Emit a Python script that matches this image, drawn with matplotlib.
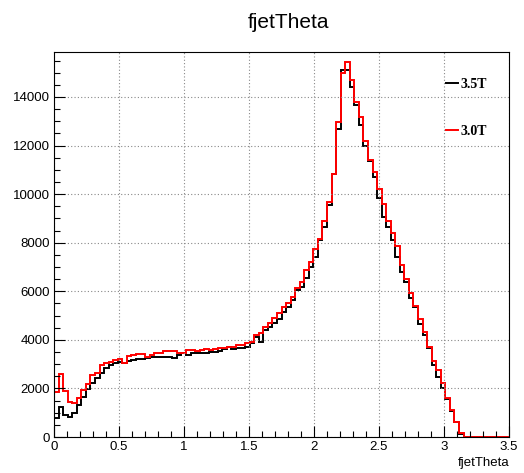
import numpy as np
import matplotlib
matplotlib.use("Agg")
import matplotlib.pyplot as plt
from matplotlib.ticker import MultipleLocator

# ===== data: 100 bins from 0 to 3.5 =====
n_bins = 100
x_min, x_max = 0.0, 3.5

counts_35T = [
    770, 1220, 900, 840, 1000, 1320, 1630, 1960, 2210, 2420,
    2650, 2830, 2960, 3060, 3100, 3060, 3130, 3170, 3200, 3220,
    3240, 3280, 3300, 3300, 3310, 3300, 3240, 3370, 3440, 3370,
    3440, 3440, 3440, 3440, 3510, 3510, 3560, 3610, 3720, 3610,
    3650, 3650, 3720, 3860, 4130, 3920, 4400, 4540, 4680, 4850,
    5150, 5360, 5640, 6050, 6160, 6530, 7010, 7420, 8110, 8650,
    9550, 10810, 12700, 15100, 15100, 14420, 13660, 12840, 11990, 11350,
    10710, 9850, 9070, 8660, 8110, 7420, 6800, 6390, 5730, 5360,
    4650, 4200, 3650, 2960, 2480, 2000, 1560, 1080, 600, 140,
    15, 0, 0, 0, 0, 0, 0, 0, 0, 0,
]
counts_30T = [
    1850, 2600, 1880, 1450, 1420, 1620, 1930, 2170, 2550, 2650,
    2960, 3030, 3100, 3170, 3200, 3060, 3330, 3370, 3410, 3400,
    3300, 3370, 3440, 3470, 3540, 3540, 3520, 3440, 3460, 3580,
    3580, 3560, 3580, 3610, 3580, 3620, 3650, 3650, 3720, 3720,
    3790, 3790, 3850, 3920, 4200, 4270, 4540, 4680, 4880, 5100,
    5360, 5530, 5770, 6140, 6390, 6870, 7210, 7720, 8140, 8890,
    9690, 10810, 12980, 15000, 15420, 14690, 13800, 13180, 12180, 11400,
    10920, 10190, 9600, 8890, 8410, 7860, 7070, 6490, 5940, 5390,
    4840, 4330, 3720, 3140, 2760, 2230, 1590, 1110, 630, 150,
    20, 0, 0, 0, 0, 0, 0, 0, 0, 0,
]
labels = ["3.5T", "3.0T"]

edges = np.linspace(x_min, x_max, n_bins + 1)

# ===== figure =====
fig = plt.figure(figsize=(5.24, 4.73), dpi=100)
ax = fig.add_axes([54 / 524, 36 / 473, 455 / 524, 385 / 473])

ax.stairs(counts_35T, edges, baseline=None, color="black", lw=1.4, label=labels[0])
ax.stairs(counts_30T, edges, baseline=None, color="red", lw=1.4, label=labels[1])

ax.set_xlim(x_min, x_max)
ax.set_ylim(0, 15850)

ax.xaxis.set_major_locator(MultipleLocator(0.5))
ax.xaxis.set_minor_locator(MultipleLocator(0.1))
ax.yaxis.set_major_locator(MultipleLocator(2000))
ax.yaxis.set_minor_locator(MultipleLocator(500))
ax.set_xticks(np.arange(0, 3.51, 0.5))
ax.set_xticklabels(["0", "0.5", "1", "1.5", "2", "2.5", "3", "3.5"])

tick_font = "Liberation Sans"
ax.tick_params(which="major", direction="in", length=8, width=0.8, labelsize=9.5, pad=3)
ax.tick_params(which="minor", direction="in", length=4, width=0.8)
for lab in ax.get_xticklabels() + ax.get_yticklabels():
    lab.set_fontfamily(tick_font)

ax.grid(True, which="major", color="#888888", linestyle=(0, (1, 2)), lw=0.8)
for sp in ax.spines.values():
    sp.set_linewidth(0.8)

fig.text(509 / 524, 4 / 473, "fjetTheta", ha="right", va="bottom",
         fontsize=9.5, family=tick_font)
fig.text(288 / 524, 450 / 473, "fjetTheta", ha="center", va="center",
         fontsize=15, family=tick_font)

ax.legend(loc="upper left", bbox_to_anchor=(433 / 524, 408 / 473),
          bbox_transform=fig.transFigure, frameon=False,
          handlelength=0.9, handletextpad=0.15, labelspacing=2.45,
          prop={"family": "Liberation Serif", "weight": "bold", "size": 10})

fig.savefig("out.png", dpi=100)
